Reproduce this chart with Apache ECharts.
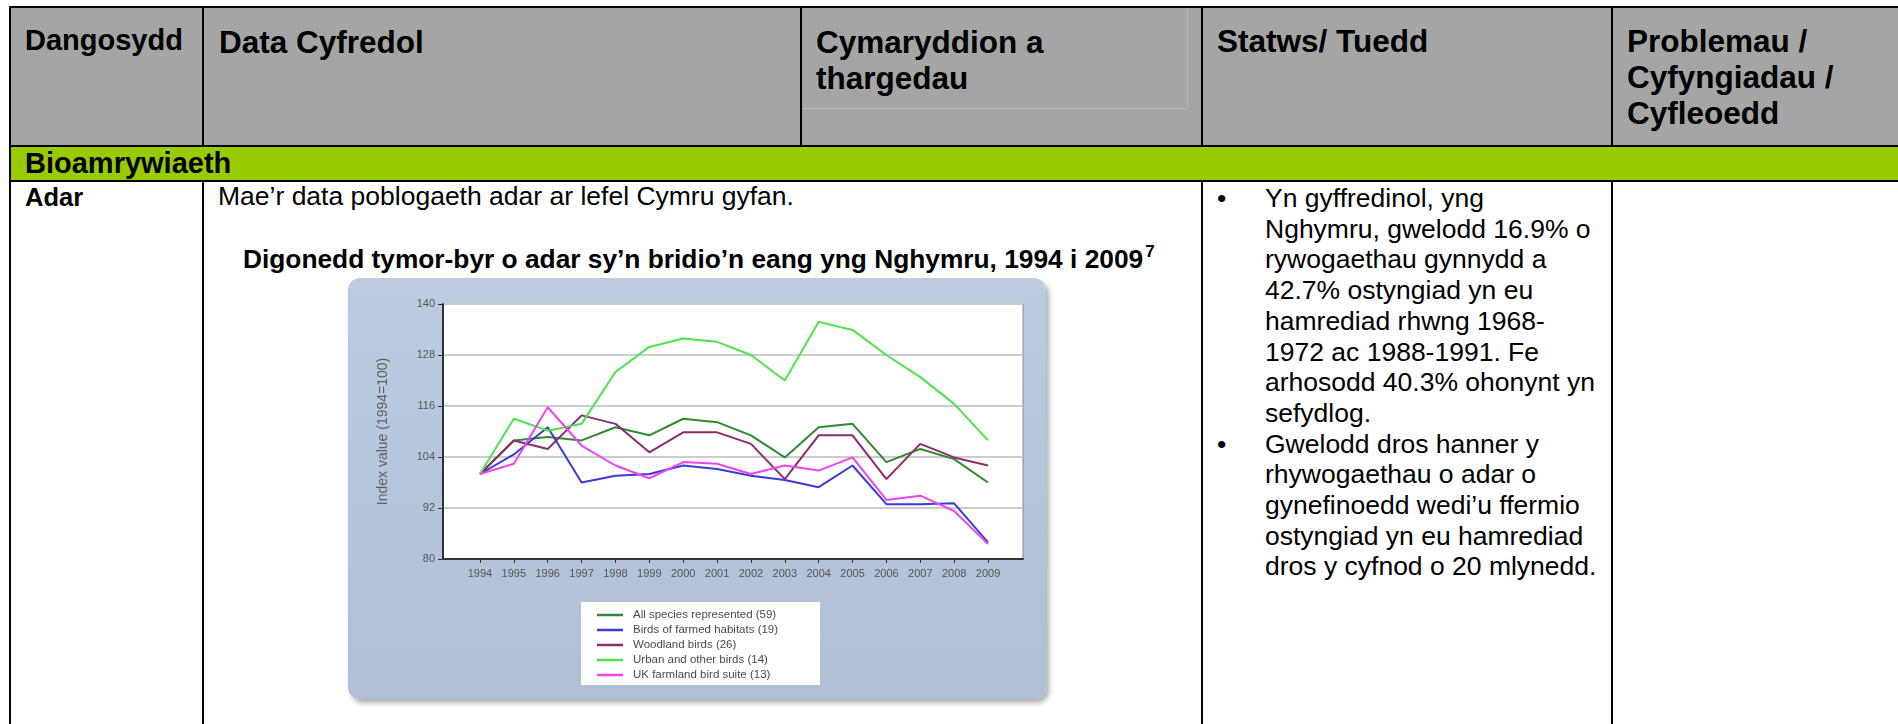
<!DOCTYPE html>
<html>
<head>
<meta charset="utf-8">
<title>Adar</title>
<script src="https://cdn.jsdelivr.net/npm/echarts@6/dist/echarts.min.js"></script>
<style>
  body { margin:0; width:1898px; height:724px; overflow:hidden; position:relative; background:#fff;
         font-family:"Liberation Sans", Arial, sans-serif; color:#000; }
  .box { position:absolute; }
  .line { position:absolute; background:#000; }
  .txt { position:absolute; white-space:nowrap; }
  .hd { font-weight:bold; font-size:31.5px; line-height:36px; }
  .body { font-size:26.5px; line-height:30.7px; }
  #chart { position:absolute; left:348px; top:278px; width:698px; height:421px; border-radius:12px;
           background:linear-gradient(#bccde2, #aebfd6); box-shadow:3px 4px 5px rgba(80,80,80,0.45); }
</style>
</head>
<body>
<!-- cefndir y tabl -->
<div class="box" style="left:10px;top:7px;width:1888px;height:139px;background:#a5a5a5"></div>
<div class="box" style="left:10px;top:146px;width:1888px;height:35px;background:#99cc00"></div>
<div class="box" style="left:803px;top:108px;width:384px;height:1px;background:#b9b9b9"></div>
<div class="box" style="left:1187px;top:8px;width:1px;height:100px;background:#b9b9b9"></div>

<!-- llinellau -->
<div class="line" style="left:9px;top:6px;width:1889px;height:2px"></div>
<div class="line" style="left:9px;top:145px;width:1889px;height:2px"></div>
<div class="line" style="left:9px;top:180px;width:1889px;height:2px"></div>
<div class="line" style="left:9px;top:6px;width:2px;height:718px"></div>
<div class="line" style="left:202px;top:6px;width:2px;height:140px"></div>
<div class="line" style="left:202px;top:181px;width:2px;height:543px"></div>
<div class="line" style="left:800px;top:6px;width:2px;height:140px"></div>
<div class="line" style="left:1201px;top:6px;width:2px;height:140px"></div>
<div class="line" style="left:1201px;top:181px;width:2px;height:543px"></div>
<div class="line" style="left:1611px;top:6px;width:2px;height:140px"></div>
<div class="line" style="left:1611px;top:181px;width:2px;height:543px"></div>

<!-- penawdau -->
<div class="txt" style="left:25px;top:22px;font-weight:bold;font-size:29px;line-height:36px">Dangosydd</div>
<div class="txt hd" style="left:219px;top:24px">Data Cyfredol</div>
<div class="txt hd" style="left:816px;top:24px">Cymaryddion a<br>thargedau</div>
<div class="txt hd" style="left:1217px;top:23px">Statws/ Tuedd</div>
<div class="txt hd" style="left:1627px;top:23px">Problemau /<br>Cyfyngiadau /<br>Cyfleoedd</div>
<div class="txt" style="left:25px;top:145px;font-weight:bold;font-size:29px;line-height:36px">Bioamrywiaeth</div>

<!-- cynnwys -->
<div class="txt" style="left:25px;top:182px;font-weight:bold;font-size:25.5px;line-height:30.7px">Adar</div>
<div class="txt body" style="left:218px;top:181px">Mae’r data poblogaeth adar ar lefel Cymru gyfan.</div>
<div class="txt" style="left:243px;top:244px;font-weight:bold;font-size:26.3px;line-height:30px">Digonedd tymor-byr o adar sy’n bridio’n eang yng Nghymru, 1994 i 2009<span style="font-size:17px;position:relative;top:-11px;margin-left:2px">7</span></div>

<div class="txt body" style="left:1217px;top:183px">•</div>
<div class="txt body" style="left:1265px;top:183px">Yn gyffredinol, yng<br>Nghymru, gwelodd 16.9% o<br>rywogaethau gynnydd a<br>42.7% ostyngiad yn eu<br>hamrediad rhwng 1968-<br>1972 ac 1988-1991. Fe<br>arhosodd 40.3% ohonynt yn<br>sefydlog.</div>
<div class="txt body" style="left:1217px;top:428.6px">•</div>
<div class="txt body" style="left:1265px;top:428.6px">Gwelodd dros hanner y<br>rhywogaethau o adar o<br>gynefinoedd wedi’u ffermio<br>ostyngiad yn eu hamrediad<br>dros y cyfnod o 20 mlynedd.</div>

<div id="chart"></div>

<script>
// blynyddoedd a gwerthoedd mynegai (1994 = 100)
var years = [1994, 1995, 1996, 1997, 1998, 1999, 2000, 2001, 2002, 2003, 2004, 2005, 2006, 2007, 2008, 2009];
var allSpecies     = [100, 107.9, 108.7, 107.9, 111.0, 109.1, 113.0, 112.2, 109.1, 103.9, 111.0, 111.8, 102.8, 105.9, 103.5, 98.0];
var farmedHabitats = [100, 104.6, 111.0, 98.0, 99.6, 100.0, 102.0, 101.2, 99.6, 98.6, 96.9, 102.0, 92.9, 92.9, 93.1, 83.9];
var woodland       = [100, 107.9, 105.9, 113.8, 111.8, 105.1, 109.8, 109.8, 107.1, 98.8, 109.1, 109.1, 98.8, 107.1, 103.9, 102.0];
var urbanOther     = [100, 113.0, 110.2, 111.8, 124.0, 129.9, 131.9, 131.1, 128.0, 122.0, 135.8, 133.9, 128.0, 122.8, 116.5, 107.9];
var ukFarmland     = [100, 102.4, 115.7, 106.7, 102.0, 99.0, 102.8, 102.4, 100.0, 102.0, 100.8, 103.9, 93.9, 94.9, 91.3, 83.5];

var seriesNames = ['All species represented (59)', 'Birds of farmed habitats (19)', 'Woodland birds (26)',
                   'Urban and other birds (14)', 'UK farmland bird suite (13)'];
var seriesColors = ['#2f8a2f', '#3a3ad8', '#8c2c6c', '#4ee24e', '#ee44ee'];
var seriesValues = [allSpecies, farmedHabitats, woodland, urbanOther, ukFarmland];

var myChart = echarts.init(document.getElementById('chart'), null, { renderer: 'canvas' });

var series = seriesValues.map(function (vals, i) {
    return {
        name: seriesNames[i],
        type: 'line',
        symbol: 'none',
        color: seriesColors[i],
        lineStyle: { width: 2, color: seriesColors[i] },
        data: years.map(function (y, k) { return [y, vals[k]]; })
    };
});

var option = {
    animation: false,
    grid: {
        left: 95, top: 26, width: 580, height: 255,
        show: true, backgroundColor: '#fff', borderColor: '#8a8a8a', borderWidth: 1
    },
    xAxis: {
        type: 'value',
        min: 1992.908,
        max: 2010.033,
        axisLine: { show: true, lineStyle: { color: '#333', width: 2 } },
        axisTick: { show: true, length: 4, customValues: years, lineStyle: { color: '#333' } },
        axisLabel: {
            customValues: years, margin: 9, color: '#555', fontSize: 11,
            fontFamily: 'Liberation Sans',
            formatter: function (v) { return String(Math.round(v)); }
        },
        splitLine: { show: false }
    },
    yAxis: {
        type: 'value',
        min: 80, max: 140, interval: 12,
        name: 'Index value (1994=100)',
        nameLocation: 'middle', nameGap: 53, nameRotate: 90,
        nameTextStyle: { color: '#606060', fontSize: 14, fontFamily: 'Liberation Sans' },
        axisLine: { show: true, lineStyle: { color: '#333', width: 2 } },
        axisTick: { show: true, length: 5, lineStyle: { color: '#333' } },
        axisLabel: { margin: 8, color: '#555', fontSize: 11, fontFamily: 'Liberation Sans' },
        splitLine: { show: true, lineStyle: { color: '#cccccc', width: 2 } }
    },
    legend: {
        data: seriesNames,
        orient: 'vertical',
        left: 233, top: 324,
        icon: 'rect', itemWidth: 26, itemHeight: 2.5, itemGap: 3,
        backgroundColor: '#fff',
        padding: [7, 42, 4, 16],
        textStyle: { fontSize: 11.5, color: '#4a4a4a', fontFamily: 'Liberation Sans', padding: [0, 0, 0, 5] }
    },
    series: series
};

option && myChart.setOption(option);
</script>
</body>
</html>
